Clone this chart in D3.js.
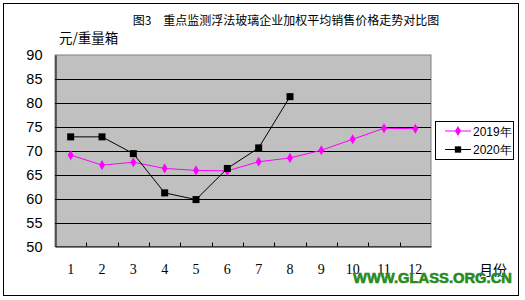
<!DOCTYPE html>
<html>
<head>
<meta charset="utf-8">
<script src="https://cdn.jsdelivr.net/npm/d3@7"></script>
<style>
  body { margin: 0; background: #fff; }
  svg { display: block; }
</style>
</head>
<body>
<svg id="chart" width="525" height="300"></svg>
<script>
// data
const months = ["1", "2", "3", "4", "5", "6", "7", "8", "9", "10", "11", "12"];
const price2019 = [69.1, 67.0, 67.6, 66.3, 65.9, 65.8, 67.7, 68.5, 70.1, 72.4, 74.7, 74.6];
const price2020 = [72.9, 72.9, 69.4, 61.2, 59.8, 66.3, 70.6, 81.3];
const yTicks = [50, 55, 60, 65, 70, 75, 80, 85, 90];
const seriesNames = ["2019年", "2020年"];

const svg = d3.select("#chart");
const plotL = 55, plotR = 431, plotT = 55, plotB = 246.5;

// outer frame
svg.append("rect")
  .attr("x", 3.5).attr("y", 3.5).attr("width", 515).attr("height", 292)
  .attr("fill", "#fff").attr("stroke", "#000").attr("stroke-width", 1);

svg.append("text")
  .attr("x", 286).attr("y", 25)
  .attr("text-anchor", "middle")
  .style("font-family", "'Noto Sans CJK SC', sans-serif")
  .style("font-size", "12px")
  .text("图3　重点监测浮法玻璃企业加权平均销售价格走势对比图");

svg.append("text")
  .attr("x", 59).attr("y", 43)
  .style("font-family", "'Noto Sans CJK SC', sans-serif")
  .style("font-size", "13.5px")
  .text("元/重量箱");

const x = d3.scaleBand().domain(months).range([plotL, plotR]);
const y = d3.scaleLinear().domain([50, 90]).range([plotB, plotT]);

// plot area
svg.append("rect")
  .attr("x", plotL).attr("y", plotT)
  .attr("width", plotR - plotL).attr("height", plotB - plotT)
  .attr("fill", "#c0c0c0").attr("stroke", "#808080");

// gridlines
svg.append("g")
  .selectAll("line")
  .data(yTicks.filter(d => d > 50 && d < 90))
  .join("line")
  .attr("x1", plotL).attr("x2", plotR)
  .attr("y1", d => Math.round(y(d)) + 0.5).attr("y2", d => Math.round(y(d)) + 0.5)
  .attr("stroke", "#000");

// y axis
const yAxis = svg.append("g")
  .attr("transform", `translate(${plotL + 0.5},0)`)
  .call(d3.axisLeft(y).tickValues(yTicks).tickSize(0).tickPadding(13));
yAxis.select(".domain").attr("stroke", "#000");
yAxis.selectAll("text")
  .style("font-family", "'Liberation Sans', Arial, sans-serif")
  .style("font-size", "14.5px")
  .attr("fill", "#000");

// x axis, ticks between categories pointing inward
const xAxis = svg.append("g")
  .attr("transform", `translate(0,${plotB})`)
  .call(d3.axisBottom(x).tickSize(0).tickPadding(18));
xAxis.select(".domain").attr("stroke", "#000");
xAxis.selectAll("text")
  .style("font-family", "'Liberation Serif', serif")
  .style("font-size", "14px")
  .attr("fill", "#000");
xAxis.append("g")
  .selectAll("line")
  .data(months.slice(1))
  .join("line")
  .attr("x1", d => Math.round(x(d)) + 0.5).attr("x2", d => Math.round(x(d)) + 0.5)
  .attr("y1", 0).attr("y2", -4)
  .attr("stroke", "#000");

svg.append("text")
  .attr("x", 493).attr("y", 275)
  .attr("text-anchor", "middle")
  .style("font-family", "'Noto Sans CJK SC', sans-serif")
  .style("font-size", "14px")
  .text("月份");

const cx = (d, i) => x(months[i]) + x.bandwidth() / 2;
const line = d3.line().x(cx).y(d => y(d));

svg.append("path").datum(price2019)
  .attr("d", line).attr("fill", "none")
  .attr("stroke", "#ff00ff").attr("stroke-width", 1);
svg.append("path").datum(price2020)
  .attr("d", line).attr("fill", "none")
  .attr("stroke", "#000").attr("stroke-width", 1);

const diamond = d3.symbol().type(d3.symbolDiamond).size(30);
svg.append("g").selectAll("path")
  .data(price2019)
  .join("path")
  .attr("d", diamond)
  .attr("transform", (d, i) => `translate(${cx(d, i)},${y(d)})`)
  .attr("fill", "#ff00ff");

svg.append("g").selectAll("rect")
  .data(price2020)
  .join("rect")
  .attr("x", (d, i) => cx(d, i) - 3.5).attr("y", d => y(d) - 3.5)
  .attr("width", 7).attr("height", 7)
  .attr("fill", "#000");

// legend
const legend = svg.append("g");
legend.append("rect")
  .attr("x", 435.5).attr("y", 121.5).attr("width", 78).attr("height", 38)
  .attr("fill", "#fff").attr("stroke", "#000");
const entries = legend.selectAll("g")
  .data(seriesNames)
  .join("g")
  .attr("transform", (d, i) => `translate(0,${131 + i * 18.5})`);
entries.append("line")
  .attr("x1", 445).attr("x2", 471).attr("y1", 0).attr("y2", 0)
  .attr("stroke", (d, i) => i === 0 ? "#ff00ff" : "#000");
entries.append("path")
  .attr("d", (d, i) => i === 0 ? diamond() : d3.symbol().type(d3.symbolSquare).size(40)())
  .attr("transform", "translate(458,0)")
  .attr("fill", (d, i) => i === 0 ? "#ff00ff" : "#000");
entries.append("text")
  .attr("x", 473).attr("y", 4.5)
  .style("font-family", "'Liberation Sans', Arial, sans-serif")
  .style("font-size", "12px")
  .text(d => d);

// watermark
svg.append("text")
  .attr("x", 353).attr("y", 283)
  .attr("textLength", 159).attr("lengthAdjust", "spacingAndGlyphs")
  .style("font-family", "'Liberation Sans', Arial, sans-serif")
  .style("font-size", "14px")
  .style("font-weight", "bold")
  .attr("fill", "#2a8a1c")
  .attr("stroke", "#2a8a1c").attr("stroke-width", 0.6)
  .text("WWW.GLASS.ORG.CN");
</script>
</body>
</html>
